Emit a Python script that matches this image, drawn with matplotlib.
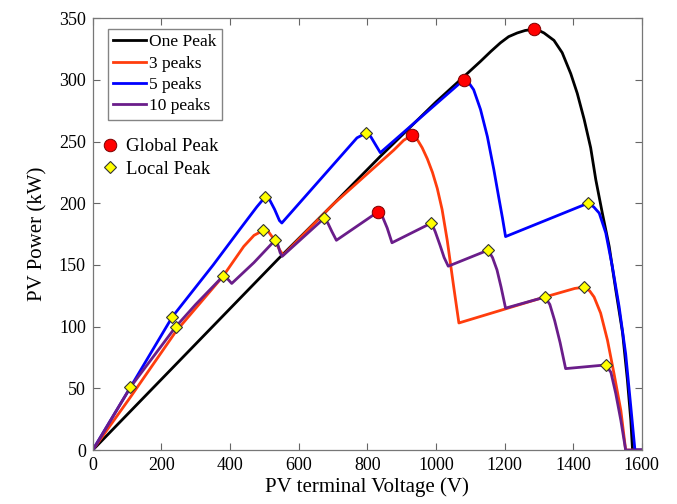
import matplotlib
matplotlib.use("Agg")
import matplotlib.pyplot as plt
from matplotlib.lines import Line2D

plt.rcParams['font.family'] = ['Liberation Serif', 'DejaVu Serif']

# PV curves: (voltage V, power kW)
one_peak_v = [0, 541, 700, 838, 1000, 1083, 1130, 1160, 1188, 1212, 1237, 1260, 1286, 1300,
              1315, 1344, 1368, 1393, 1412, 1432, 1451, 1466, 1485, 1505, 1524, 1544, 1558,
              1568, 1573, 1600]
one_peak_p = [0, 155, 199, 238, 282, 303, 315, 323, 330, 335, 338, 340, 341, 340,
              338, 332, 322, 305, 289, 268, 245, 219, 192, 165, 130, 95, 57,
              24, 0, 0]

three_v = [0, 110, 242, 380, 440, 470, 497, 512, 530, 545, 555, 700, 877, 906, 929, 945, 960,
           975, 990, 1004, 1018, 1033, 1052, 1067, 1317, 1405, 1432, 1448, 1461, 1480, 1500,
           1519, 1539, 1553, 1600]
three_p = [0, 43, 96, 141, 165, 174, 178, 177, 170, 162, 158, 199, 243, 251, 255, 252, 245,
           236, 225, 212, 195, 170, 132, 103, 124, 131, 132, 129, 124, 111, 89,
           62, 32, 0, 0]

five_v = [0, 110, 232, 351, 429, 478, 502, 515, 530, 544, 551, 770, 797, 810, 825, 838, 1081,
          1095, 1110, 1130, 1150, 1169, 1183, 1194, 1203, 1443, 1460, 1476, 1495, 1514, 1534,
          1553, 1568, 1580, 1600]
five_p = [0, 51, 108, 150, 179, 197, 205, 203, 195, 186, 184, 253, 257, 254, 247, 241, 300,
          298, 292, 276, 254, 227, 205, 188, 173, 200, 197, 192, 176, 149, 116,
          78, 35, 0, 0]

ten_v = [0, 110, 242, 300, 380, 392, 405, 470, 531, 540, 546, 552, 675, 685, 697, 710, 831,
         843, 858, 872, 987, 998, 1012, 1024, 1036, 1152, 1165, 1178, 1190, 1203, 1318, 1332,
         1346, 1362, 1378, 1495, 1510, 1524, 1539, 1553, 1597]
ten_p = [0, 51, 100, 118, 141, 139, 135, 152, 170, 166, 160, 157, 188, 184, 177, 170, 193,
         190, 180, 168, 184, 177, 166, 156, 149, 162, 156, 146, 132, 115, 124, 118,
         105, 87, 66, 69, 63, 46, 24, 0, 0]

# peaks
global_v = [1286, 1081, 929, 831]
global_p = [341, 300, 255, 193]
local_v = [110, 232, 242, 380, 497, 531, 502, 675, 797, 987, 1152, 1318, 1432, 1443, 1495]
local_p = [51, 108, 100, 141, 178, 170, 205, 188, 257, 184, 162, 124, 132, 200, 69]

fig = plt.figure(figsize=(6.77, 5.04), dpi=100)
ax = fig.add_axes([0.137, 0.107, 0.811, 0.857])

lw = 2.0
l1, = ax.plot(one_peak_v, one_peak_p, color='black', lw=lw, label='One Peak')
l2, = ax.plot(three_v, three_p, color='#FF3D0D', lw=lw, label='3 peaks')
l3, = ax.plot(five_v, five_p, color='#0000FF', lw=lw, label='5 peaks')
l4, = ax.plot(ten_v, ten_p, color='#6A1D8A', lw=lw, label='10 peaks')

ax.plot(global_v, global_p, 'o', ms=9, mfc='red', mec='#7a0000', mew=0.7, ls='none', zorder=5)
ax.plot(local_v, local_p, 'D', ms=6.5, mfc='#FFFF00', mec='#333333', mew=0.8, ls='none', zorder=5)

ax.set_xlim(0, 1600)
ax.set_ylim(0, 350)
ax.set_xticks(range(0, 1601, 200))
ax.set_yticks(range(0, 351, 50))
ax.tick_params(direction='in', top=True, right=True, labelsize=13, length=5,
               color='#666666', width=0.8, pad=5)
for s in ax.spines.values():
    s.set_color('#777777')
    s.set_linewidth(0.9)

ax.set_xlabel('PV terminal Voltage (V)', fontsize=15, labelpad=2)
ax.set_ylabel('PV Power (kW)', fontsize=15, labelpad=8)

leg1 = ax.legend(handles=[l1, l2, l3, l4], loc='upper left', bbox_to_anchor=(0.027, 0.975),
                 fontsize=12.5, frameon=True, fancybox=False, edgecolor='#666666',
                 handlelength=1.9, handletextpad=0.2, labelspacing=0.3,
                 borderpad=0.3, borderaxespad=0)
leg1.get_frame().set_linewidth(1.0)
ax.add_artist(leg1)

h_glob = Line2D([], [], marker='o', ms=9, mfc='red', mec='#7a0000', mew=0.7, ls='none')
h_loc = Line2D([], [], marker='D', ms=6.5, mfc='#FFFF00', mec='#333333', mew=0.8, ls='none')
ax.legend(handles=[h_glob, h_loc], labels=['Global Peak', 'Local Peak'], loc='upper left',
          bbox_to_anchor=(0.0, 0.74), fontsize=13.5, frameon=False,
          handlelength=1.0, handletextpad=0.4, labelspacing=0.3, borderaxespad=0)

fig.savefig('out.png', dpi=100)
